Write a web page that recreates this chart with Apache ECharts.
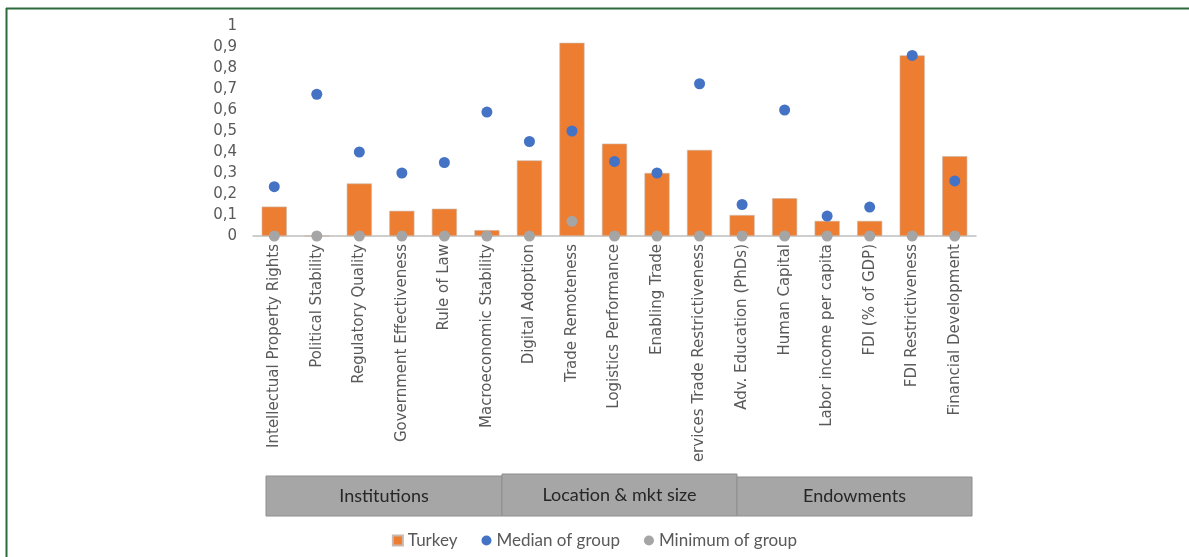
<!DOCTYPE html>
<html>
<head>
<meta charset="utf-8">
<script src="https://cdn.jsdelivr.net/npm/echarts@6/dist/echarts.min.js"></script>
<style>
html,body{margin:0;padding:0;background:#fff;}
#c{width:1189px;height:557px;}
</style>
</head>
<body>
<div id="c"></div>
<script>
const categories = [
  'Intellectual Property Rights','Political Stability','Regulatory Quality','Government Effectiveness',
  'Rule of Law','Macroeconomic Stability','Digital Adoption','Trade Remoteness','Logistics Performance',
  'Enabling Trade','Services Trade Restrictiveness','Adv. Education (PhDs)','Human Capital',
  'Labor income per capita','FDI (% of GDP)','FDI Restrictiveness','Financial Development'
];
const turkey = [0.14,0,0.25,0.12,0.13,0.028,0.36,0.92,0.44,0.30,0.41,0.10,0.18,0.072,0.072,0.86,0.38];
const median = [0.235,0.675,0.40,0.30,0.35,0.59,0.45,0.50,0.355,0.30,0.725,0.15,0.60,0.095,0.138,0.86,0.262];
const minimum = [0,0,0,0,0,0,0,0.07,0,0,0,0,0,0,0,0,0];
const yTicks = [0,0.1,0.2,0.3,0.4,0.5,0.6,0.7,0.8,0.9,1];
const groups = ['Institutions','Location & mkt size','Endowments'];
const seriesNames = ['Turkey','Median of group','Minimum of group'];

const chart = echarts.init(document.getElementById('c'), null, {renderer:'canvas'});
const gridL = 253, gridR = 213, gridT = 26, gridB = 321;
const axisFont = "DejaVu Sans";
const boxFont = "Lato";

function groupGraphics(){
  const boxes = [[266,502,476],[502,737,474],[737,972,477]];
  const els = [];
  els.push({type:'rect', z:99, shape:{x:254, y:463, width:720, height:12}, style:{fill:'#fff'}});
  boxes.forEach((b,i)=>{
    els.push({
      type:'rect', z:100,
      shape:{x:b[0], y:b[2], width:b[1]-b[0], height:516-b[2]},
      style:{fill:'#a6a6a6', stroke:'#8e8e8e', lineWidth:1}
    });
    els.push({
      type:'text', z:101,
      x:(b[0]+b[1])/2, y:(b[2]+516)/2,
      style:{text:groups[i], fill:'#262626', fontSize:18, fontFamily:boxFont, align:'center', verticalAlign:'middle'}
    });
  });
  els.push({type:'line', z:102, shape:{x1:6, y1:8.5, x2:1189, y2:8.5}, style:{stroke:'#2b6b3b', lineWidth:2}});
  els.push({type:'line', z:102, shape:{x1:6.5, y1:8, x2:6.5, y2:557}, style:{stroke:'#2b6b3b', lineWidth:2}});
  return els;
}

chart.setOption({
  animation:false,
  backgroundColor:'#fff',
  grid:{left:gridL, right:gridR, top:gridT, bottom:gridB, containLabel:false},
  legend:{
    data:[
      {name:seriesNames[0], icon:'rect'},
      {name:seriesNames[1], icon:'circle'},
      {name:seriesNames[2], icon:'circle'}
    ],
    left:'center', top:527, itemWidth:10, itemHeight:10, itemGap:24,
    textStyle:{color:'#595959', fontSize:17, fontFamily:boxFont}
  },
  xAxis:{
    type:'category', data:categories,
    axisLine:{show:true, lineStyle:{color:'#bfbfbf', width:1.5}},
    axisTick:{show:false},
    axisLabel:{rotate:90, interval:0, color:'#595959', fontSize:15, fontFamily:axisFont, margin:8}
  },
  yAxis:{
    type:'value', min:0, max:1, interval:0.1,
    axisLine:{show:false}, axisTick:{show:false}, splitLine:{show:false},
    axisLabel:{color:'#595959', fontSize:15, fontFamily:axisFont, margin:16,
      formatter:v=>{const t=yTicks.find(x=>Math.abs(x-v)<1e-9); return String(Math.round((t!==undefined?t:v)*10)/10).replace('.',',');}}
  },
  series:[
    {name:seriesNames[0], type:'bar', data:turkey, barWidth:'59%',
      itemStyle:{color:'#ed7d31', borderColor:'#c9b8ad', borderWidth:0.6}},
    {name:seriesNames[1], type:'scatter', data:median, symbol:'circle', symbolSize:11,
      itemStyle:{color:'#4472c4', opacity:1}},
    {name:seriesNames[2], type:'scatter', data:minimum, symbol:'circle', symbolSize:11,
      itemStyle:{color:'#a5a5a5', opacity:1}}
  ],
  graphic:groupGraphics()
});
</script>
</body>
</html>
